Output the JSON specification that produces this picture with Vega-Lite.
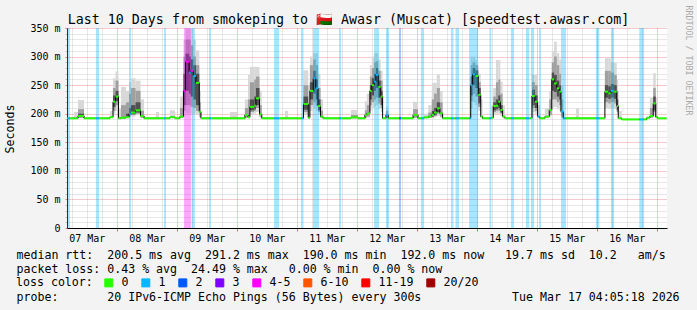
{
"$schema": "https://vega.github.io/schema/vega-lite/v6.json",
"width": 600, "height": 200,
"autosize": {"type": "none"},
"padding": {"left": 67, "top": 28, "right": 30, "bottom": 82},
"background": "#f3f3f3",
"config": {"view": {"fill": "white", "stroke": null}, "font": "DejaVu Sans Mono"},
"title": {"text": "Last 10 Days from smokeping to \ud83c\uddf4\ud83c\uddf2 Awasr (Muscat) [speedtest.awasr.com]", "frame": "group", "anchor": "middle", "dx": -18.5, "dy": 36, "offset": 4, "baseline": "alphabetic", "font": "DejaVu Sans Mono", "fontSize": 13.3, "fontWeight": "normal", "color": "black"},
"datasets": {
"loss": [
{"t":"2026-03-07T04:05Z","t2":"2026-03-07T05:15Z","loss":"1"},
{"t":"2026-03-07T15:40Z","t2":"2026-03-07T16:55Z","loss":"1"},
{"t":"2026-03-08T04:55Z","t2":"2026-03-08T05:40Z","loss":"1"},
{"t":"2026-03-08T18:55Z","t2":"2026-03-08T19:40Z","loss":"1"},
{"t":"2026-03-09T02:55Z","t2":"2026-03-09T05:40Z","loss":"4-5"},
{"t":"2026-03-09T05:55Z","t2":"2026-03-09T07:15Z","loss":"1"},
{"t":"2026-03-09T12:55Z","t2":"2026-03-09T13:40Z","loss":"1"},
{"t":"2026-03-10T14:55Z","t2":"2026-03-10T16:55Z","loss":"1"},
{"t":"2026-03-11T01:40Z","t2":"2026-03-11T02:40Z","loss":"1"},
{"t":"2026-03-11T06:30Z","t2":"2026-03-11T08:55Z","loss":"1"},
{"t":"2026-03-11T16:55Z","t2":"2026-03-11T17:40Z","loss":"1"},
{"t":"2026-03-12T06:55Z","t2":"2026-03-12T08:55Z","loss":"1"},
{"t":"2026-03-12T11:40Z","t2":"2026-03-12T12:55Z","loss":"1"},
{"t":"2026-03-12T16:55Z","t2":"2026-03-12T17:40Z","loss":"2"},
{"t":"2026-03-13T01:40Z","t2":"2026-03-13T02:55Z","loss":"1"},
{"t":"2026-03-13T13:40Z","t2":"2026-03-13T14:40Z","loss":"1"},
{"t":"2026-03-13T15:30Z","t2":"2026-03-13T16:55Z","loss":"1"},
{"t":"2026-03-13T20:55Z","t2":"2026-03-14T00:30Z","loss":"1"},
{"t":"2026-03-14T05:05Z","t2":"2026-03-14T05:50Z","loss":"1"},
{"t":"2026-03-14T13:40Z","t2":"2026-03-14T14:55Z","loss":"1"},
{"t":"2026-03-14T19:40Z","t2":"2026-03-14T21:00Z","loss":"1"},
{"t":"2026-03-14T21:40Z","t2":"2026-03-14T22:55Z","loss":"1"},
{"t":"2026-03-15T00:55Z","t2":"2026-03-15T01:40Z","loss":"1"},
{"t":"2026-03-15T09:40Z","t2":"2026-03-15T11:40Z","loss":"1"},
{"t":"2026-03-15T23:40Z","t2":"2026-03-16T01:00Z","loss":"1"},
{"t":"2026-03-16T05:40Z","t2":"2026-03-16T06:55Z","loss":"1"},
{"t":"2026-03-16T17:00Z","t2":"2026-03-16T18:55Z","loss":"1"}
],
"rtt": [
{"t":"2026-03-07T04:05Z","t2":"2026-03-07T05:15Z","med":192,"loss":"1"},
{"t":"2026-03-07T05:15Z","t2":"2026-03-07T06:55Z","med":192,"loss":"0"},
{"t":"2026-03-07T06:55Z","t2":"2026-03-07T08:30Z","med":192,"loss":"0","l1":192,"h1":203},
{"t":"2026-03-07T08:30Z","t2":"2026-03-07T10:55Z","med":196,"loss":"0","l1":192,"h1":224,"l2":193,"h2":208,"l3":194,"h3":200},
{"t":"2026-03-07T10:55Z","t2":"2026-03-07T15:40Z","med":192,"loss":"0"},
{"t":"2026-03-07T15:40Z","t2":"2026-03-07T16:55Z","med":192,"loss":"1"},
{"t":"2026-03-07T16:55Z","t2":"2026-03-07T21:15Z","med":192,"loss":"0"},
{"t":"2026-03-07T21:15Z","t2":"2026-03-07T22:30Z","med":194,"loss":"0","l1":192,"h1":205},
{"t":"2026-03-07T22:30Z","t2":"2026-03-07T23:30Z","med":221,"loss":"0","l1":200,"h1":262,"l2":205,"h2":245,"l3":212,"h3":232},
{"t":"2026-03-07T23:30Z","t2":"2026-03-08T00:40Z","med":230,"loss":"0","l1":205,"h1":274,"l2":215,"h2":258,"l3":222,"h3":240},
{"t":"2026-03-08T00:40Z","t2":"2026-03-08T01:40Z","med":192,"loss":"0","l1":192,"h1":208},
{"t":"2026-03-08T01:40Z","t2":"2026-03-08T03:40Z","med":193,"loss":"0","l1":192,"h1":247,"l2":192,"h2":215},
{"t":"2026-03-08T03:40Z","t2":"2026-03-08T04:55Z","med":194,"loss":"0","l1":192,"h1":240,"l2":193,"h2":220,"l3":193,"h3":200},
{"t":"2026-03-08T04:55Z","t2":"2026-03-08T05:40Z","med":200,"loss":"1","l1":194,"h1":255,"l2":197,"h2":235,"l3":198,"h3":210},
{"t":"2026-03-08T05:40Z","t2":"2026-03-08T07:30Z","med":202,"loss":"0","l1":195,"h1":262,"l2":198,"h2":245,"l3":199,"h3":215},
{"t":"2026-03-08T07:30Z","t2":"2026-03-08T09:30Z","med":206,"loss":"0","l1":198,"h1":258,"l2":200,"h2":240,"l3":202,"h3":220},
{"t":"2026-03-08T09:30Z","t2":"2026-03-08T10:55Z","med":196,"loss":"0","l1":192,"h1":225,"l2":193,"h2":205},
{"t":"2026-03-08T10:55Z","t2":"2026-03-08T15:40Z","med":192,"loss":"0"},
{"t":"2026-03-08T15:40Z","t2":"2026-03-08T16:55Z","med":192,"loss":"0","l1":192,"h1":203},
{"t":"2026-03-08T16:55Z","t2":"2026-03-08T18:55Z","med":192,"loss":"0"},
{"t":"2026-03-08T18:55Z","t2":"2026-03-08T19:40Z","med":192,"loss":"1"},
{"t":"2026-03-08T19:40Z","t2":"2026-03-08T21:15Z","med":192,"loss":"0"},
{"t":"2026-03-08T21:15Z","t2":"2026-03-08T23:15Z","med":194,"loss":"0","l1":192,"h1":206},
{"t":"2026-03-08T23:15Z","t2":"2026-03-09T01:15Z","med":192,"loss":"0"},
{"t":"2026-03-09T01:15Z","t2":"2026-03-09T02:40Z","med":195,"loss":"0","l1":192,"h1":230,"l2":193,"h2":210},
{"t":"2026-03-09T02:40Z","t2":"2026-03-09T03:30Z","med":240,"loss":"4-5","l1":195,"h1":329,"l2":205,"h2":300,"l3":215,"h3":270},
{"t":"2026-03-09T03:30Z","t2":"2026-03-09T04:55Z","med":291,"loss":"4-5","l1":200,"h1":350,"l2":215,"h2":330,"l3":240,"h3":305},
{"t":"2026-03-09T04:55Z","t2":"2026-03-09T05:35Z","med":272,"loss":"1","l1":200,"h1":350,"l2":215,"h2":330,"l3":235,"h3":300},
{"t":"2026-03-09T05:35Z","t2":"2026-03-09T06:35Z","med":275,"loss":"4-5","l1":200,"h1":350,"l2":212,"h2":320,"l3":230,"h3":295},
{"t":"2026-03-09T06:35Z","t2":"2026-03-09T07:40Z","med":266,"loss":"1","l1":200,"h1":330,"l2":210,"h2":300,"l3":225,"h3":285},
{"t":"2026-03-09T07:40Z","t2":"2026-03-09T09:00Z","med":254,"loss":"0","l1":198,"h1":311,"l2":205,"h2":285,"l3":215,"h3":270},
{"t":"2026-03-09T09:00Z","t2":"2026-03-09T09:40Z","med":203.5,"loss":"0","l1":193,"h1":240,"l2":195,"h2":220},
{"t":"2026-03-09T09:40Z","t2":"2026-03-09T12:55Z","med":192,"loss":"0"},
{"t":"2026-03-09T12:55Z","t2":"2026-03-09T13:40Z","med":192,"loss":"1"},
{"t":"2026-03-09T13:40Z","t2":"2026-03-09T21:15Z","med":192,"loss":"0"},
{"t":"2026-03-09T21:15Z","t2":"2026-03-10T00:05Z","med":192,"loss":"0","l1":192,"h1":203},
{"t":"2026-03-10T00:05Z","t2":"2026-03-10T03:15Z","med":192,"loss":"0"},
{"t":"2026-03-10T03:15Z","t2":"2026-03-10T04:30Z","med":198,"loss":"0","l1":192,"h1":225,"l2":193,"h2":210},
{"t":"2026-03-10T04:30Z","t2":"2026-03-10T05:15Z","med":194,"loss":"0","l1":192,"h1":268,"l2":193,"h2":225},
{"t":"2026-03-10T05:15Z","t2":"2026-03-10T07:00Z","med":212,"loss":"0","l1":198,"h1":282,"l2":203,"h2":255,"l3":206,"h3":225},
{"t":"2026-03-10T07:00Z","t2":"2026-03-10T07:40Z","med":214,"loss":"0","l1":200,"h1":282,"l2":205,"h2":260,"l3":208,"h3":230},
{"t":"2026-03-10T07:40Z","t2":"2026-03-10T09:05Z","med":227,"loss":"0","l1":203,"h1":282,"l2":210,"h2":265,"l3":215,"h3":245},
{"t":"2026-03-10T09:05Z","t2":"2026-03-10T10:00Z","med":199,"loss":"0","l1":193,"h1":240,"l2":195,"h2":215},
{"t":"2026-03-10T10:00Z","t2":"2026-03-10T14:55Z","med":192,"loss":"0"},
{"t":"2026-03-10T14:55Z","t2":"2026-03-10T16:55Z","med":192,"loss":"1"},
{"t":"2026-03-10T16:55Z","t2":"2026-03-10T19:15Z","med":192,"loss":"0"},
{"t":"2026-03-10T19:15Z","t2":"2026-03-10T20:30Z","med":192,"loss":"0","l1":192,"h1":205},
{"t":"2026-03-10T20:30Z","t2":"2026-03-11T01:40Z","med":192,"loss":"0"},
{"t":"2026-03-11T01:40Z","t2":"2026-03-11T02:40Z","med":192,"loss":"1"},
{"t":"2026-03-11T02:40Z","t2":"2026-03-11T04:35Z","med":217,"loss":"0","l1":198,"h1":276,"l2":203,"h2":250,"l3":207,"h3":230},
{"t":"2026-03-11T04:35Z","t2":"2026-03-11T05:15Z","med":193,"loss":"0","l1":192,"h1":250,"l2":193,"h2":215},
{"t":"2026-03-11T05:15Z","t2":"2026-03-11T06:35Z","med":240,"loss":"0","l1":205,"h1":300,"l2":215,"h2":285,"l3":225,"h3":255},
{"t":"2026-03-11T06:35Z","t2":"2026-03-11T07:35Z","med":262,"loss":"1","l1":210,"h1":306,"l2":220,"h2":295,"l3":235,"h3":275},
{"t":"2026-03-11T07:35Z","t2":"2026-03-11T08:30Z","med":244.5,"loss":"1","l1":205,"h1":306,"l2":215,"h2":285,"l3":225,"h3":260},
{"t":"2026-03-11T08:30Z","t2":"2026-03-11T09:30Z","med":213.5,"loss":"0","l1":198,"h1":270,"l2":203,"h2":245,"l3":206,"h3":225},
{"t":"2026-03-11T09:30Z","t2":"2026-03-11T10:30Z","med":195,"loss":"0","l1":192,"h1":225,"l2":193,"h2":205},
{"t":"2026-03-11T10:30Z","t2":"2026-03-11T16:55Z","med":192,"loss":"0"},
{"t":"2026-03-11T16:55Z","t2":"2026-03-11T17:40Z","med":192,"loss":"1"},
{"t":"2026-03-11T17:40Z","t2":"2026-03-11T21:40Z","med":192,"loss":"0"},
{"t":"2026-03-11T21:40Z","t2":"2026-03-12T00:30Z","med":193.5,"loss":"0","l1":192,"h1":206.5,"l2":192,"h2":198},
{"t":"2026-03-12T00:30Z","t2":"2026-03-12T03:15Z","med":192,"loss":"0"},
{"t":"2026-03-12T03:15Z","t2":"2026-03-12T04:00Z","med":198,"loss":"0","l1":192,"h1":222,"l2":193,"h2":206},
{"t":"2026-03-12T04:00Z","t2":"2026-03-12T05:15Z","med":200.5,"loss":"0","l1":193,"h1":235,"l2":195,"h2":215},
{"t":"2026-03-12T05:15Z","t2":"2026-03-12T06:00Z","med":240,"loss":"0","l1":205,"h1":285,"l2":215,"h2":265,"l3":225,"h3":250},
{"t":"2026-03-12T06:00Z","t2":"2026-03-12T06:55Z","med":250,"loss":"0","l1":210,"h1":300,"l2":220,"h2":280,"l3":232,"h3":262},
{"t":"2026-03-12T06:55Z","t2":"2026-03-12T07:40Z","med":256,"loss":"1","l1":212,"h1":306,"l2":225,"h2":290,"l3":240,"h3":270},
{"t":"2026-03-12T07:40Z","t2":"2026-03-12T08:35Z","med":268,"loss":"1","l1":215,"h1":306,"l2":228,"h2":292,"l3":245,"h3":280},
{"t":"2026-03-12T08:35Z","t2":"2026-03-12T09:35Z","med":247,"loss":"0","l1":208,"h1":295,"l2":218,"h2":275,"l3":228,"h3":258},
{"t":"2026-03-12T09:35Z","t2":"2026-03-12T10:20Z","med":230,"loss":"0","l1":203,"h1":275,"l2":210,"h2":258,"l3":215,"h3":240},
{"t":"2026-03-12T10:20Z","t2":"2026-03-12T11:40Z","med":192,"loss":"0"},
{"t":"2026-03-12T11:40Z","t2":"2026-03-12T12:35Z","med":198,"loss":"1","l1":192,"h1":212,"l2":193,"h2":205},
{"t":"2026-03-12T12:35Z","t2":"2026-03-12T16:55Z","med":192,"loss":"0"},
{"t":"2026-03-12T16:55Z","t2":"2026-03-12T17:40Z","med":192,"loss":"2"},
{"t":"2026-03-12T17:40Z","t2":"2026-03-12T22:30Z","med":192,"loss":"0"},
{"t":"2026-03-12T22:30Z","t2":"2026-03-13T00:30Z","med":198,"loss":"0","l1":192,"h1":221,"l2":193,"h2":208},
{"t":"2026-03-13T00:30Z","t2":"2026-03-13T01:40Z","med":192,"loss":"0"},
{"t":"2026-03-13T01:40Z","t2":"2026-03-13T02:55Z","med":192,"loss":"1"},
{"t":"2026-03-13T02:55Z","t2":"2026-03-13T04:35Z","med":193.5,"loss":"0","l1":192,"h1":200},
{"t":"2026-03-13T04:35Z","t2":"2026-03-13T06:00Z","med":195,"loss":"0","l1":192,"h1":215,"l2":193,"h2":202},
{"t":"2026-03-13T06:00Z","t2":"2026-03-13T06:55Z","med":198,"loss":"0","l1":192,"h1":254,"l2":194,"h2":225,"l3":195,"h3":205},
{"t":"2026-03-13T06:55Z","t2":"2026-03-13T08:00Z","med":202,"loss":"0","l1":194,"h1":254,"l2":196,"h2":235,"l3":198,"h3":210},
{"t":"2026-03-13T08:00Z","t2":"2026-03-13T09:15Z","med":209.5,"loss":"0","l1":196,"h1":268,"l2":200,"h2":245,"l3":203,"h3":220},
{"t":"2026-03-13T09:15Z","t2":"2026-03-13T10:20Z","med":200.7,"loss":"0","l1":193,"h1":240,"l2":195,"h2":220},
{"t":"2026-03-13T10:20Z","t2":"2026-03-13T13:40Z","med":192,"loss":"0"},
{"t":"2026-03-13T13:40Z","t2":"2026-03-13T14:40Z","med":192,"loss":"1"},
{"t":"2026-03-13T14:40Z","t2":"2026-03-13T15:30Z","med":192,"loss":"0"},
{"t":"2026-03-13T15:30Z","t2":"2026-03-13T16:55Z","med":192,"loss":"1"},
{"t":"2026-03-13T16:55Z","t2":"2026-03-13T20:55Z","med":192,"loss":"0"},
{"t":"2026-03-13T20:55Z","t2":"2026-03-13T21:35Z","med":192,"loss":"1"},
{"t":"2026-03-13T21:35Z","t2":"2026-03-13T22:20Z","med":250,"loss":"1","l1":210,"h1":300,"l2":222,"h2":285,"l3":232,"h3":265},
{"t":"2026-03-13T22:20Z","t2":"2026-03-13T23:25Z","med":269,"loss":"1","l1":220,"h1":300,"l2":235,"h2":290,"l3":250,"h3":280},
{"t":"2026-03-13T23:25Z","t2":"2026-03-14T00:35Z","med":266,"loss":"0","l1":215,"h1":294,"l2":230,"h2":285,"l3":245,"h3":276},
{"t":"2026-03-14T00:35Z","t2":"2026-03-14T01:35Z","med":233,"loss":"0","l1":205,"h1":270,"l2":212,"h2":255,"l3":218,"h3":245},
{"t":"2026-03-14T01:35Z","t2":"2026-03-14T02:20Z","med":195,"loss":"0","l1":192,"h1":225},
{"t":"2026-03-14T02:20Z","t2":"2026-03-14T05:05Z","med":192,"loss":"0"},
{"t":"2026-03-14T05:05Z","t2":"2026-03-14T05:50Z","med":192,"loss":"1"},
{"t":"2026-03-14T05:50Z","t2":"2026-03-14T06:35Z","med":193,"loss":"0","l1":192,"h1":215},
{"t":"2026-03-14T06:35Z","t2":"2026-03-14T07:40Z","med":213.5,"loss":"0","l1":198,"h1":245,"l2":203,"h2":230,"l3":206,"h3":220},
{"t":"2026-03-14T07:40Z","t2":"2026-03-14T08:35Z","med":214,"loss":"0","l1":200,"h1":294,"l2":205,"h2":255,"l3":208,"h3":225},
{"t":"2026-03-14T08:35Z","t2":"2026-03-14T09:25Z","med":221,"loss":"0","l1":200,"h1":294,"l2":205,"h2":260,"l3":210,"h3":232},
{"t":"2026-03-14T09:25Z","t2":"2026-03-14T10:20Z","med":206.5,"loss":"0","l1":196,"h1":256,"l2":200,"h2":235,"l3":202,"h3":215},
{"t":"2026-03-14T10:20Z","t2":"2026-03-14T11:15Z","med":195,"loss":"0","l1":192,"h1":215},
{"t":"2026-03-14T11:15Z","t2":"2026-03-14T13:40Z","med":192,"loss":"0"},
{"t":"2026-03-14T13:40Z","t2":"2026-03-14T14:55Z","med":192,"loss":"1"},
{"t":"2026-03-14T14:55Z","t2":"2026-03-14T19:40Z","med":192,"loss":"0"},
{"t":"2026-03-14T19:40Z","t2":"2026-03-14T21:00Z","med":192,"loss":"1"},
{"t":"2026-03-14T21:00Z","t2":"2026-03-14T22:05Z","med":192,"loss":"0"},
{"t":"2026-03-14T22:05Z","t2":"2026-03-14T23:15Z","med":231,"loss":"0","l1":203,"h1":268,"l2":210,"h2":255,"l3":215,"h3":242},
{"t":"2026-03-14T23:15Z","t2":"2026-03-15T00:20Z","med":221,"loss":"0","l1":200,"h1":268,"l2":205,"h2":250,"l3":210,"h3":232},
{"t":"2026-03-15T00:20Z","t2":"2026-03-15T01:15Z","med":195,"loss":"1","l1":192,"h1":215},
{"t":"2026-03-15T01:15Z","t2":"2026-03-15T03:15Z","med":192,"loss":"0"},
{"t":"2026-03-15T03:15Z","t2":"2026-03-15T05:00Z","med":195,"loss":"0","l1":192,"h1":210},
{"t":"2026-03-15T05:00Z","t2":"2026-03-15T06:00Z","med":206.5,"loss":"0","l1":195,"h1":240,"l2":198,"h2":225},
{"t":"2026-03-15T06:00Z","t2":"2026-03-15T06:55Z","med":260,"loss":"0","l1":210,"h1":310,"l2":225,"h2":290,"l3":240,"h3":272},
{"t":"2026-03-15T06:55Z","t2":"2026-03-15T08:00Z","med":253,"loss":"0","l1":212,"h1":326,"l2":225,"h2":300,"l3":238,"h3":268},
{"t":"2026-03-15T08:00Z","t2":"2026-03-15T09:00Z","med":244.5,"loss":"0","l1":208,"h1":306,"l2":220,"h2":285,"l3":230,"h3":258},
{"t":"2026-03-15T09:00Z","t2":"2026-03-15T09:40Z","med":238.5,"loss":"0","l1":205,"h1":295,"l2":215,"h2":270,"l3":225,"h3":250},
{"t":"2026-03-15T09:40Z","t2":"2026-03-15T10:35Z","med":203.5,"loss":"1","l1":193,"h1":250,"l2":195,"h2":225},
{"t":"2026-03-15T10:35Z","t2":"2026-03-15T11:40Z","med":192,"loss":"1"},
{"t":"2026-03-15T11:40Z","t2":"2026-03-15T15:40Z","med":192,"loss":"0"},
{"t":"2026-03-15T15:40Z","t2":"2026-03-15T16:55Z","med":192,"loss":"0","l1":192,"h1":209.5},
{"t":"2026-03-15T16:55Z","t2":"2026-03-15T23:40Z","med":192,"loss":"0"},
{"t":"2026-03-15T23:40Z","t2":"2026-03-16T01:00Z","med":192,"loss":"1"},
{"t":"2026-03-16T01:00Z","t2":"2026-03-16T03:15Z","med":192,"loss":"0"},
{"t":"2026-03-16T03:15Z","t2":"2026-03-16T04:35Z","med":238.5,"loss":"0","l1":210,"h1":297,"l2":220,"h2":275,"l3":228,"h3":250},
{"t":"2026-03-16T04:35Z","t2":"2026-03-16T05:35Z","med":235.7,"loss":"0","l1":208,"h1":297,"l2":218,"h2":275,"l3":226,"h3":248},
{"t":"2026-03-16T05:35Z","t2":"2026-03-16T06:55Z","med":240,"loss":"1","l1":210,"h1":289,"l2":220,"h2":272,"l3":228,"h3":252},
{"t":"2026-03-16T06:55Z","t2":"2026-03-16T08:00Z","med":238.5,"loss":"0","l1":208,"h1":289,"l2":218,"h2":268,"l3":226,"h3":250},
{"t":"2026-03-16T08:00Z","t2":"2026-03-16T08:35Z","med":213.5,"loss":"0","l1":198,"h1":260,"l2":203,"h2":240,"l3":206,"h3":225},
{"t":"2026-03-16T08:35Z","t2":"2026-03-16T10:00Z","med":192,"loss":"0","l1":192,"h1":205},
{"t":"2026-03-16T10:00Z","t2":"2026-03-16T17:00Z","med":190,"loss":"0"},
{"t":"2026-03-16T17:00Z","t2":"2026-03-16T18:55Z","med":190,"loss":"1"},
{"t":"2026-03-16T18:55Z","t2":"2026-03-16T20:00Z","med":190,"loss":"0"},
{"t":"2026-03-16T20:00Z","t2":"2026-03-16T21:15Z","med":193,"loss":"0"},
{"t":"2026-03-16T21:15Z","t2":"2026-03-16T22:35Z","med":196,"loss":"0","l1":192,"h1":228,"l2":193,"h2":210},
{"t":"2026-03-16T22:35Z","t2":"2026-03-16T23:35Z","med":218,"loss":"0","l1":198,"h1":271,"l2":203,"h2":245,"l3":206,"h3":230},
{"t":"2026-03-16T23:35Z","t2":"2026-03-17T00:20Z","med":194,"loss":"0","l1":192,"h1":228},
{"t":"2026-03-17T00:20Z","t2":"2026-03-17T04:00Z","med":192,"loss":"0"}
]
},
"layer": [
{
"data": {"name": "rtt"},
"transform": [{"filter": "isValid(datum.h1)"}],
"mark": {"type": "rect", "color": "#d8d8d8"},
"encoding": {
"x": {"field": "t", "type": "temporal",
 "scale": {"type": "utc", "nice": false, "domain": [{"year":2026,"month":3,"date":7,"hours":4,"minutes":5,"seconds":18,"utc":true},{"year":2026,"month":3,"date":17,"hours":4,"minutes":5,"seconds":18,"utc":true}]},
 "axis": {"orient": "bottom",
  "values": [{"year":2026,"month":3,"date":8,"utc":true},{"year":2026,"month":3,"date":9,"utc":true},{"year":2026,"month":3,"date":10,"utc":true},{"year":2026,"month":3,"date":11,"utc":true},{"year":2026,"month":3,"date":12,"utc":true},{"year":2026,"month":3,"date":13,"utc":true},{"year":2026,"month":3,"date":14,"utc":true},{"year":2026,"month":3,"date":15,"utc":true},{"year":2026,"month":3,"date":16,"utc":true},{"year":2026,"month":3,"date":17,"utc":true}],
  "grid": true, "gridColor": "#de4f4f", "gridOpacity": 0.6, "gridDash": [1,1],
  "ticks": true, "tickColor": "#de4f4f", "tickOpacity": 0.8, "tickSize": 3,
  "labels": false, "domain": false,
  "title": "probe:\u00a0\u00a0\u00a0\u00a0\u00a0\u00a0\u00a020\u00a0IPv6-ICMP\u00a0Echo\u00a0Pings\u00a0(56\u00a0Bytes)\u00a0every\u00a0300s\u00a0\u00a0\u00a0\u00a0\u00a0\u00a0\u00a0\u00a0\u00a0\u00a0\u00a0\u00a0\u00a0Tue\u00a0Mar\u00a017\u00a004:05:18\u00a02026",
  "titleFont": "DejaVu Sans Mono", "titleFontSize": 11.6, "titleFontWeight": "normal", "titleColor": "black",
  "titleX": -51, "titleY": 72, "titleAlign": "left", "titleAnchor": "start", "titleBaseline": "alphabetic", "titleAngle": 0}},
"x2": {"field": "t2"},
"y": {"field": "l1", "type": "quantitative", "scale": {"domain": [0, 350], "nice": false, "zero": false},
 "axis": {"orient": "left", "values": [10,20,30,40,60,70,80,90,110,120,130,140,160,170,180,190,210,220,230,240,260,270,280,290,310,320,330,340],
  "grid": true, "gridColor": "#bfbfbf", "gridOpacity": 0.75, "gridDash": [1,1],
  "ticks": true, "tickColor": "#bfbfbf", "tickSize": 2, "labels": false, "domain": false, "title": null}},
"y2": {"field": "h1"}
}
},
{
"data": {"name": "rtt"},
"transform": [{"filter": "isValid(datum.h2)"}],
"mark": {"type": "rect", "color": "#a0a0a0"},
"encoding": {
"x": {"field": "t", "type": "temporal",
 "scale": {"type": "utc", "nice": false, "domain": [{"year":2026,"month":3,"date":7,"hours":4,"minutes":5,"seconds":18,"utc":true},{"year":2026,"month":3,"date":17,"hours":4,"minutes":5,"seconds":18,"utc":true}]},
 "axis": {"orient": "bottom",
  "values": [{"year":2026,"month":3,"date":7,"hours":6,"utc":true},{"year":2026,"month":3,"date":7,"hours":12,"utc":true},{"year":2026,"month":3,"date":7,"hours":18,"utc":true},
   {"year":2026,"month":3,"date":8,"hours":6,"utc":true},{"year":2026,"month":3,"date":8,"hours":12,"utc":true},{"year":2026,"month":3,"date":8,"hours":18,"utc":true},
   {"year":2026,"month":3,"date":9,"hours":6,"utc":true},{"year":2026,"month":3,"date":9,"hours":12,"utc":true},{"year":2026,"month":3,"date":9,"hours":18,"utc":true},
   {"year":2026,"month":3,"date":10,"hours":6,"utc":true},{"year":2026,"month":3,"date":10,"hours":12,"utc":true},{"year":2026,"month":3,"date":10,"hours":18,"utc":true},
   {"year":2026,"month":3,"date":11,"hours":6,"utc":true},{"year":2026,"month":3,"date":11,"hours":12,"utc":true},{"year":2026,"month":3,"date":11,"hours":18,"utc":true},
   {"year":2026,"month":3,"date":12,"hours":6,"utc":true},{"year":2026,"month":3,"date":12,"hours":12,"utc":true},{"year":2026,"month":3,"date":12,"hours":18,"utc":true},
   {"year":2026,"month":3,"date":13,"hours":6,"utc":true},{"year":2026,"month":3,"date":13,"hours":12,"utc":true},{"year":2026,"month":3,"date":13,"hours":18,"utc":true},
   {"year":2026,"month":3,"date":14,"hours":6,"utc":true},{"year":2026,"month":3,"date":14,"hours":12,"utc":true},{"year":2026,"month":3,"date":14,"hours":18,"utc":true},
   {"year":2026,"month":3,"date":15,"hours":6,"utc":true},{"year":2026,"month":3,"date":15,"hours":12,"utc":true},{"year":2026,"month":3,"date":15,"hours":18,"utc":true},
   {"year":2026,"month":3,"date":16,"hours":6,"utc":true},{"year":2026,"month":3,"date":16,"hours":12,"utc":true},{"year":2026,"month":3,"date":16,"hours":18,"utc":true}],
  "grid": true, "gridColor": "#bfbfbf", "gridOpacity": 0.75, "gridDash": [1,1],
  "ticks": false, "labels": false, "domain": false, "title": null}},
"x2": {"field": "t2"},
"y": {"field": "l2", "type": "quantitative", "scale": {"domain": [0, 350], "nice": false, "zero": false},
 "axis": {"orient": "right", "ticks": false, "labels": false, "grid": false, "domain": false,
  "title": "RRDTOOL / TOBI OETIKER", "titleFont": "DejaVu Sans Mono", "titleFontSize": 8.3, "titleFontWeight": "normal", "titleColor": "#aaaaaa",
  "titleAngle": 90, "titleX": 20.5, "titleY": 32, "titleAlign": "center", "titleBaseline": "middle"}},
"y2": {"field": "h2"}
}
},
{
"data": {"name": "rtt"},
"transform": [{"filter": "isValid(datum.h3)"}],
"mark": {"type": "rect", "color": "#505050"},
"encoding": {
"x": {"field": "t", "type": "temporal", "scale": {"type": "utc", "nice": false, "domain": [{"year":2026,"month":3,"date":7,"hours":4,"minutes":5,"seconds":18,"utc":true},{"year":2026,"month":3,"date":17,"hours":4,"minutes":5,"seconds":18,"utc":true}]}, "axis": null},
"x2": {"field": "t2"},
"y": {"field": "l3", "type": "quantitative", "scale": {"domain": [0, 350], "nice": false, "zero": false}, "axis": null},
"y2": {"field": "h3"}
}
},
{
"data": {"name": "loss"},
"mark": {"type": "rect", "opacity": 0.35},
"encoding": {
"x": {"field": "t", "type": "temporal",
 "scale": {"type": "utc", "nice": false, "domain": [{"year":2026,"month":3,"date":7,"hours":4,"minutes":5,"seconds":18,"utc":true},{"year":2026,"month":3,"date":17,"hours":4,"minutes":5,"seconds":18,"utc":true}]},
 "axis": {"orient": "bottom",
  "values": [{"year":2026,"month":3,"date":7,"hours":12,"utc":true},{"year":2026,"month":3,"date":8,"hours":12,"utc":true},{"year":2026,"month":3,"date":9,"hours":12,"utc":true},{"year":2026,"month":3,"date":10,"hours":12,"utc":true},{"year":2026,"month":3,"date":11,"hours":12,"utc":true},{"year":2026,"month":3,"date":12,"hours":12,"utc":true},{"year":2026,"month":3,"date":13,"hours":12,"utc":true},{"year":2026,"month":3,"date":14,"hours":12,"utc":true},{"year":2026,"month":3,"date":15,"hours":12,"utc":true},{"year":2026,"month":3,"date":16,"hours":12,"utc":true}],
  "labelExpr": "utcFormat(datum.value, '%d %b')",
  "ticks": false, "grid": false, "domain": true, "domainColor": "black", "domainWidth": 1,
  "labelFont": "DejaVu Sans Mono", "labelFontSize": 10, "labelColor": "black", "labelPadding": 13, "labelBaseline": "alphabetic",
  "labelFlush": false, "labelOverlap": false, "labelBound": false,
  "title": ["median\u00a0rtt:\u00a0\u00a0200.5\u00a0ms\u00a0avg\u00a0\u00a0291.2\u00a0ms\u00a0max\u00a0\u00a0190.0\u00a0ms\u00a0min\u00a0\u00a0192.0\u00a0ms\u00a0now\u00a0\u00a0\u00a019.7\u00a0ms\u00a0sd\u00a0\u00a010.2\u00a0\u00a0\u00a0am/s",
            "packet\u00a0loss:\u00a00.43\u00a0%\u00a0avg\u00a0\u00a024.49\u00a0%\u00a0max\u00a0\u00a0\u00a00.00\u00a0%\u00a0min\u00a0\u00a00.00\u00a0%\u00a0now"],
  "titleFont": "DejaVu Sans Mono", "titleFontSize": 11.6, "titleFontWeight": "normal", "titleColor": "black",
  "titleX": -51, "titleY": 30, "titleAlign": "left", "titleAnchor": "start", "titleBaseline": "alphabetic", "titleLineHeight": 14, "titleAngle": 0}},
"x2": {"field": "t2"},
"y": {"datum": 0, "type": "quantitative", "scale": {"domain": [0, 350], "nice": false, "zero": false},
 "axis": {"orient": "left", "values": [0,50,100,150,200,250,300,350],
  "labelExpr": "datum.value == 0 ? '0\u00a0\u00a0' : datum.value + '\u00a0m'",
  "grid": true, "gridColor": "#de4f4f", "gridOpacity": 0.6, "gridDash": [1,1],
  "ticks": true, "tickColor": "#de4f4f", "tickOpacity": 0.7, "tickSize": 2,
  "labelPadding": 5, "labelFont": "DejaVu Sans Mono", "labelFontSize": 10, "labelColor": "black", "labelBaseline": "middle",
  "labelFlush": false, "labelOverlap": false, "labelBound": false,
  "domain": true, "domainColor": "black",
  "title": "Seconds", "titleFont": "DejaVu Sans Mono", "titleFontSize": 11.6, "titleFontWeight": "normal", "titleColor": "black",
  "titleX": -57, "titleY": 100.5, "titleAngle": 270, "titleAlign": "center", "titleBaseline": "middle"}},
"y2": {"datum": 350},
"color": {"field": "loss", "type": "nominal",
 "scale": {"domain": ["0","1","2","3","4-5","6-10","11-19","20/20"], "range": ["#26ff00","#00b8ff","#0059ff","#7e00ff","#ff00ff","#ff5500","#ff0000","#a10000"]},
 "legend": {"orient": "none", "legendX": -51, "legendY": 249, "direction": "horizontal",
  "title": "loss\u00a0color:", "titleOrient": "left", "titleFont": "DejaVu Sans Mono", "titleFontSize": 11.6, "titleFontWeight": "normal", "titleColor": "black", "titlePadding": 10,
  "labelFont": "DejaVu Sans Mono", "labelFontSize": 11.6, "labelColor": "black", "labelOffset": 7, "columnPadding": 10,
  "symbolType": "square", "symbolSize": 64, "symbolStrokeColor": "black", "symbolStrokeWidth": 1, "symbolOpacity": 1,
  "encode": {"symbols": {"update": {"opacity": {"value": 1}, "fillOpacity": {"value": 1}, "stroke": {"value": "black"}, "strokeWidth": {"value": 1}}}}}}
}
},
{
"data": {"name": "rtt"},
"mark": {"type": "line", "interpolate": "step-after", "color": "black", "strokeWidth": 1},
"encoding": {
"x": {"field": "t", "type": "temporal", "scale": {"type": "utc", "nice": false, "domain": [{"year":2026,"month":3,"date":7,"hours":4,"minutes":5,"seconds":18,"utc":true},{"year":2026,"month":3,"date":17,"hours":4,"minutes":5,"seconds":18,"utc":true}]}, "axis": null},
"y": {"field": "med", "type": "quantitative", "scale": {"domain": [0, 350], "nice": false, "zero": false}, "axis": null}
}
},
{
"data": {"name": "rtt"},
"mark": {"type": "rule", "strokeWidth": 2},
"encoding": {
"x": {"field": "t", "type": "temporal", "scale": {"type": "utc", "nice": false, "domain": [{"year":2026,"month":3,"date":7,"hours":4,"minutes":5,"seconds":18,"utc":true},{"year":2026,"month":3,"date":17,"hours":4,"minutes":5,"seconds":18,"utc":true}]}, "axis": null},
"x2": {"field": "t2"},
"y": {"field": "med", "type": "quantitative", "scale": {"domain": [0, 350], "nice": false, "zero": false}, "axis": null},
"color": {"field": "loss", "type": "nominal", "scale": {"domain": ["0","1","2","3","4-5","6-10","11-19","20/20"], "range": ["#26ff00","#00b8ff","#0059ff","#7e00ff","#ff00ff","#ff5500","#ff0000","#a10000"]}, "legend": null}
}
},
{
"mark": {"type": "point", "shape": "triangle-right", "filled": true, "size": 22, "color": "#a00000", "opacity": 1, "xOffset": 3},
"encoding": {
"x": {"datum": {"year":2026,"month":3,"date":17,"hours":4,"minutes":5,"seconds":18,"utc":true}, "type": "temporal", "scale": {"type": "utc", "nice": false, "domain": [{"year":2026,"month":3,"date":7,"hours":4,"minutes":5,"seconds":18,"utc":true},{"year":2026,"month":3,"date":17,"hours":4,"minutes":5,"seconds":18,"utc":true}]}, "axis": null},
"y": {"datum": 0, "type": "quantitative", "scale": {"domain": [0, 350], "nice": false, "zero": false}, "axis": null}
}
},
{
"mark": {"type": "point", "shape": "triangle-up", "filled": true, "size": 22, "color": "#a00000", "opacity": 1, "yOffset": -3},
"encoding": {
"x": {"datum": {"year":2026,"month":3,"date":7,"hours":4,"minutes":5,"seconds":18,"utc":true}, "type": "temporal", "scale": {"type": "utc", "nice": false, "domain": [{"year":2026,"month":3,"date":7,"hours":4,"minutes":5,"seconds":18,"utc":true},{"year":2026,"month":3,"date":17,"hours":4,"minutes":5,"seconds":18,"utc":true}]}, "axis": null},
"y": {"datum": 350, "type": "quantitative", "scale": {"domain": [0, 350], "nice": false, "zero": false}, "axis": null}
}
}
],
"resolve": {"axis": {"x": "independent", "y": "independent"}}
}
